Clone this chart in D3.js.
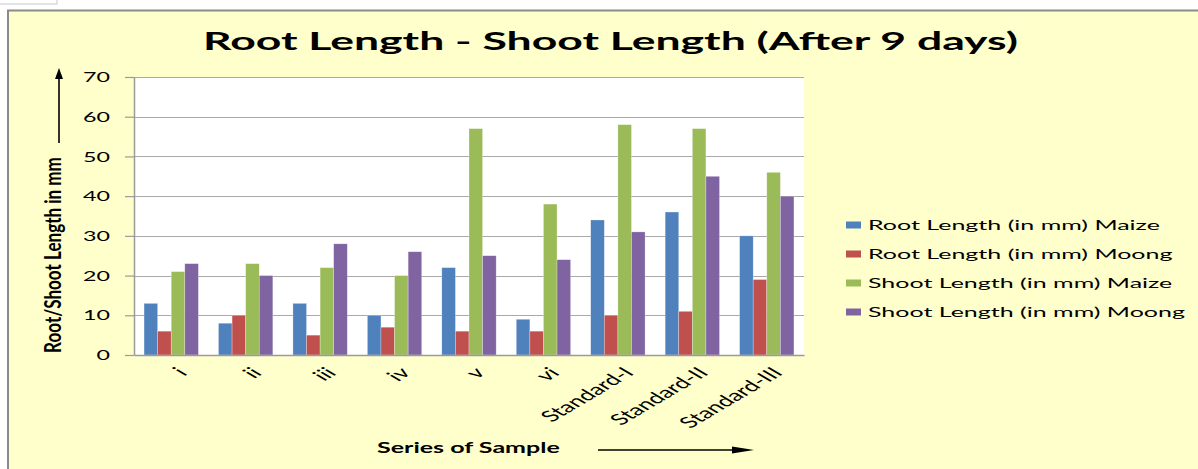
<!DOCTYPE html>
<html>
<head>
<meta charset="utf-8">
<script src="https://cdn.jsdelivr.net/npm/d3@7"></script>
<style>
  html, body { margin: 0; padding: 0; background: #ffffff; }
  svg { display: block; }
  text { font-family: Lato, "Open Sans", "DejaVu Sans", sans-serif; fill: #000; }
</style>
</head>
<body>
<svg id="chart" width="1198" height="469"></svg>
<script>
const categories = ["i", "ii", "iii", "iv", "v", "vi", "Standard-I", "Standard-II", "Standard-III"];
const seriesNames = [
  "Root Length (in mm) Maize",
  "Root Length (in mm) Moong",
  "Shoot Length (in mm) Maize",
  "Shoot Length (in mm) Moong"
];
const rootMaize  = [13, 8, 13, 10, 22, 9, 34, 36, 30];
const rootMoong  = [6, 10, 5, 7, 6, 6, 10, 11, 19];
const shootMaize = [21, 23, 22, 20, 57, 38, 58, 57, 46];
const shootMoong = [23, 20, 28, 26, 25, 24, 31, 45, 40];
const yTicks = [0, 10, 20, 30, 40, 50, 60, 70];
const colors = ["#4F81BD", "#C0504D", "#9BBB59", "#8064A2"];
const titleText = "Root Length - Shoot Length (After 9 days)";
const yLabel = "Root/Shoot Length in mm";
const xLabel = "Series of Sample";

const seriesValues = [rootMaize, rootMoong, shootMaize, shootMoong];
const table = categories.map((c, i) => ({
  cat: c,
  vals: seriesNames.map((s, k) => ({ key: s, k: k, value: seriesValues[k][i] }))
}));

const svg = d3.select("#chart");

// small leftover box at top-left and chart frame
svg.append("rect").attr("x", -1).attr("y", -1).attr("width", 58).attr("height", 5)
  .attr("fill", "#fff").attr("stroke", "#c8c8c8");
svg.append("rect").attr("x", 8).attr("y", 10.5).attr("width", 1200).attr("height", 470)
  .attr("fill", "#FFFFCC").attr("stroke", "#8a8a8a").attr("stroke-width", 2);

const plot = { left: 134, right: 804, top: 77, bottom: 355 };

const x0 = d3.scaleBand().domain(categories).range([plot.left, plot.right])
  .paddingInner(0.27).paddingOuter(0.135);
const x1 = d3.scaleBand().domain(seriesNames).range([0, x0.bandwidth()]).padding(0);
const y = d3.scaleLinear().domain([0, 70]).range([plot.bottom, plot.top]);

// plot background
svg.append("rect").attr("x", plot.left).attr("y", plot.top)
  .attr("width", plot.right - plot.left).attr("height", plot.bottom - plot.top)
  .attr("fill", "#ffffff");

// gridlines
svg.append("g").selectAll("line").data(yTicks.filter(v => v > 0)).join("line")
  .attr("x1", plot.left).attr("x2", plot.right)
  .attr("y1", d => Math.round(y(d)) + 0.5).attr("y2", d => Math.round(y(d)) + 0.5)
  .attr("stroke", "#a9a9a9").attr("stroke-width", 1.2);

// bars
const groups = svg.append("g").selectAll("g").data(table).join("g")
  .attr("transform", d => `translate(${x0(d.cat)},0)`);
groups.selectAll("rect").data(d => d.vals).join("rect")
  .attr("x", d => x1(d.key))
  .attr("width", x1.bandwidth())
  .attr("y", d => y(d.value))
  .attr("height", d => y(0) - y(d.value))
  .attr("fill", d => colors[d.k])
  .attr("stroke", "rgba(255,255,255,0.45)").attr("stroke-width", 0.6);

// helper for measuring text width
function measure(str, size, weight) {
  const t = svg.append("text").attr("font-size", size).attr("font-weight", weight || "normal").text(str);
  const w = t.node().getComputedTextLength();
  t.remove();
  return w;
}

// y axis
const ySx = 27 / measure("70", 13);
const yAxis = d3.axisLeft(y).tickValues(yTicks).tickSize(9).tickSizeOuter(0);
const yg = svg.append("g").attr("transform", `translate(${plot.left},0)`).call(yAxis);
yg.select(".domain").attr("stroke", "#9a9a9a").attr("stroke-width", 1.5);
yg.selectAll(".tick line").attr("stroke", "#9a9a9a").attr("stroke-width", 1.2);
yg.selectAll(".tick text")
  .attr("font-size", 13).attr("font-family", "Lato, sans-serif").attr("fill", "#222")
  .attr("x", -24 / ySx).attr("dy", "0.36em")
  .attr("transform", `scale(${ySx},1)`);

// x axis
const xLabSize = 13 * 78 / measure("Standard-III", 13);
const xAxis = d3.axisBottom(x0).tickSize(0).tickSizeOuter(0);
const xg = svg.append("g").attr("transform", `translate(0,${plot.bottom})`).call(xAxis);
xg.select(".domain").attr("stroke", "#9a9a9a").attr("stroke-width", 1.5);
xg.selectAll(".tick text")
  .attr("font-size", xLabSize).attr("font-family", "Lato, sans-serif").attr("fill", "#222")
  .attr("text-anchor", "end").attr("x", 0).attr("y", 0).attr("dy", "0.72em")
  .attr("transform", "translate(4,11) scale(1.7,1) rotate(-45)");

// title
const titleW = measure(titleText, 25, "bold");
svg.append("g").attr("transform", `translate(610.5,50) scale(${815 / titleW},1)`)
  .append("text").attr("text-anchor", "middle").attr("font-size", 25).attr("font-weight", "bold")
  .text(titleText);

// y axis label
const yLabSize = 15 * 196 / measure(yLabel, 15, "bold");
svg.append("g").attr("transform", "translate(61,255) scale(1.3,1) rotate(-90)")
  .append("text").attr("text-anchor", "middle").attr("font-size", yLabSize).attr("font-weight", "bold")
  .text(yLabel);

// x axis label
const xTitleW = measure(xLabel, 15, "bold");
svg.append("g").attr("transform", `translate(377,453) scale(${183 / xTitleW},1)`)
  .append("text").attr("font-size", 15).attr("font-weight", "bold").text(xLabel);

// arrows
const defs = svg.append("defs");
svg.append("line").attr("x1", 59).attr("x2", 59).attr("y1", 143).attr("y2", 78)
  .attr("stroke", "#000").attr("stroke-width", 1.6);
svg.append("path").attr("d", "M59,68 L55,79 L63,79 Z").attr("fill", "#000");
svg.append("line").attr("x1", 598).attr("x2", 736).attr("y1", 450).attr("y2", 450)
  .attr("stroke", "#000").attr("stroke-width", 1.6);
svg.append("path").attr("d", "M754,450 L732,446.5 L732,453.5 Z").attr("fill", "#000");

// legend
const legSx = 292 / measure(seriesNames[0], 14);
const legY = [225, 254, 283, 312];
const leg = svg.append("g").selectAll("g").data(seriesNames).join("g")
  .attr("transform", (d, i) => `translate(846,${legY[i]})`);
leg.append("rect").attr("x", 0).attr("y", -3.5).attr("width", 15).attr("height", 7)
  .attr("fill", (d, i) => colors[i]);
leg.append("g").attr("transform", `translate(22,5) scale(${legSx},1)`)
  .append("text").attr("font-size", 14).attr("fill", "#111").text(d => d);
</script>
</body>
</html>
